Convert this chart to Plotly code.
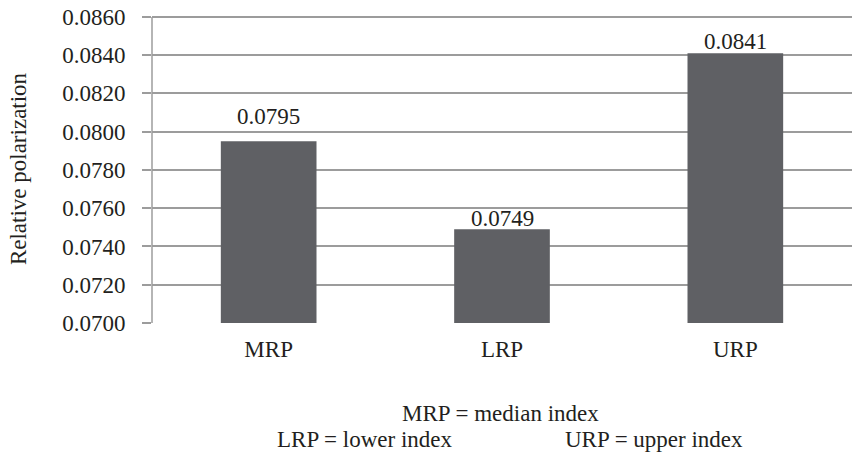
import plotly.graph_objects as go

categories = ["MRP", "LRP", "URP"]
values = [0.0795, 0.0749, 0.0841]
tick_vals = [0.0700, 0.0720, 0.0740, 0.0760, 0.0780, 0.0800, 0.0820, 0.0840, 0.0860]
y_title = "Relative polarization"
legend_lines = ["MRP = median index", "LRP = lower index", "URP = upper index"]

FONT = "Liberation Serif"
GRID = "#9c9c9c"
TXT = "#231f20"
FS = 23

W, H = 857, 456
L, T, R, B = 152, 15, 5, 133
Y_RANGE = [0.0700, 0.0861]

fig = go.Figure()
fig.add_trace(go.Bar(
    x=categories, y=values,
    marker=dict(color="#5f6064", line=dict(width=0)),
    hoverinfo="x+y",
))

label_shift = [25, 11, 12]
for c, v, s in zip(categories, values, label_shift):
    fig.add_annotation(x=c, y=v, text=f"{v:.4f}", showarrow=False,
                       xanchor="center", yanchor="middle", yshift=s,
                       font=dict(family=FONT, size=FS, color=TXT))

fig.update_layout(
    width=W, height=H,
    margin=dict(l=L, r=R, t=T, b=B, autoexpand=False),
    plot_bgcolor="white", paper_bgcolor="white",
    bargap=0.59,
    showlegend=False,
    font=dict(family=FONT, size=FS, color=TXT),
)
fig.update_yaxes(
    range=Y_RANGE,
    tickvals=tick_vals,
    ticktext=[f"{v:.4f}" for v in tick_vals],
    showgrid=True, gridcolor=GRID, gridwidth=1.5,
    showline=False,
    ticks="outside", ticklen=9, tickcolor=GRID, tickwidth=1.5,
    ticklabelstandoff=12,
    ticklabeloverflow="allow",
    automargin=False,
    tickfont=dict(family=FONT, size=FS, color=TXT),
    title=dict(text=y_title, font=dict(family=FONT, size=FS, color=TXT), standoff=29),
    zeroline=False,
)
fig.update_xaxes(
    showline=False, showgrid=False, ticks="",
    ticklabelstandoff=10,
    automargin=False,
    tickfont=dict(family=FONT, size=FS, color=TXT),
)
# vertical axis line from 0.0700 to 0.0860
fig.add_shape(type="line", xref="paper", yref="y", x0=0, x1=0,
              y0=tick_vals[0], y1=tick_vals[-1],
              line=dict(color=GRID, width=1.5), layer="above")

plot_h = H - T - B
def py(page_y):
    return (H - B - page_y) / plot_h
def px(page_x):
    return (page_x - L) / (W - L - R)

fig.add_annotation(text=legend_lines[0], xref="paper", yref="paper", x=px(500), y=py(413),
                   showarrow=False, xanchor="center", yanchor="middle",
                   font=dict(family=FONT, size=FS, color=TXT))
fig.add_annotation(text=legend_lines[1], xref="paper", yref="paper", x=px(365), y=py(439),
                   showarrow=False, xanchor="center", yanchor="middle",
                   font=dict(family=FONT, size=FS, color=TXT))
fig.add_annotation(text=legend_lines[2], xref="paper", yref="paper", x=px(654), y=py(439),
                   showarrow=False, xanchor="center", yanchor="middle",
                   font=dict(family=FONT, size=FS, color=TXT))

fig.write_html("out.html", config={"displayModeBar": False},
               post_script="document.body.style.margin='0';")
